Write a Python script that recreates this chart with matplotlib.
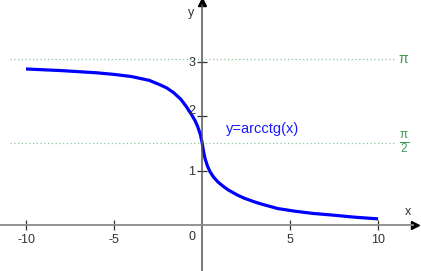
import matplotlib.pyplot as plt

# points
x_vals = [-10, -8, -6, -5, -4, -3, -2.4, -2, -1.6, -1.2, -0.9, -0.6, -0.4, -0.25, -0.1, 0,
          0.08, 0.17, 0.3, 0.45, 0.65, 0.9, 1.2, 1.5, 2, 2.4, 3, 3.4, 4.3, 5.3, 6.3, 7.4, 8.7, 10]
y_vals = [2.87, 2.84, 2.80, 2.77, 2.73, 2.66, 2.58, 2.52, 2.43, 2.31, 2.18, 2.03, 1.92, 1.81, 1.67, 1.52,
          1.36, 1.22, 1.09, 0.98, 0.88, 0.79, 0.71, 0.64, 0.55, 0.49, 0.42, 0.38, 0.30, 0.25, 0.21, 0.18, 0.14, 0.11]

x_ticks = [-10, -5, 5, 10]
y_ticks = [1, 2, 3]
y_tick_shift = [-1, 5, -1]  # label offsets in px, as in the reference
ref_lines = [3.05, 1.50]
ref_labels = ["π", r"$\frac{\pi}{2}$"]

plt.rcParams["font.family"] = ["Liberation Sans", "DejaVu Sans"]
plt.rcParams["mathtext.fontset"] = "custom"
plt.rcParams["mathtext.rm"] = "Liberation Sans"
plt.rcParams["mathtext.it"] = "Liberation Sans"
plt.rcParams["axes.unicode_minus"] = False

fig = plt.figure(figsize=(4.21, 2.71), dpi=100)
ax = fig.add_axes([0, 0, 1, 1])
ax.set_xlim(-11.48, 12.44)
ax.set_ylim(-0.85, 4.14)

for s in ["top", "right"]:
    ax.spines[s].set_visible(False)
ax.spines["left"].set_position(("data", 0))
ax.spines["bottom"].set_position(("data", 0))
ax.spines["bottom"].set_color("#8a8a8a")
ax.spines["left"].set_color("#555555")
ax.spines["bottom"].set_linewidth(1.3)
ax.spines["left"].set_linewidth(1.1)
ax.spines["bottom"].set_bounds(-11.4, 12.0)
ax.spines["left"].set_bounds(-0.85, 4.05)

ax.plot(12.1, 0, ">", color="black", markersize=6, clip_on=False)
ax.plot(0, 4.1, "^", color="black", markersize=6, clip_on=False)

ax.set_xticks(x_ticks)
ax.set_yticks(y_ticks)
ax.set_yticklabels([])
ax.tick_params(axis="both", direction="inout", length=7, width=0.9, color="#333333",
               labelsize=9, labelcolor="#333333")
ax.tick_params(axis="x", pad=3)

for yv, dy in zip(y_ticks, y_tick_shift):
    ax.annotate(str(yv), (0, yv), xytext=(-5, dy * 0.72), textcoords="offset points",
                ha="right", va="center", fontsize=9, color="#333333")

for yv, lab in zip(ref_lines, ref_labels):
    ax.plot([-10.9, 10.9], [yv, yv], linestyle=(0, (1, 2)), color="#88c898", linewidth=0.9)
    ax.text(11.45, yv, lab, color="#3a9a55", fontsize=10 if lab == "π" else 12,
            ha="center", va="center")

ax.plot(x_vals, y_vals, color="#0000ff", linewidth=2.3, solid_capstyle="butt")

ax.text(1.35, 1.77, "y=arcctg(x)", color="#1a1aff", fontsize=10.5, ha="left", va="center")
ax.text(-0.55, -0.22, "0", color="#333333", fontsize=9, ha="center", va="center")
ax.text(11.7, 0.23, "x", color="#333333", fontsize=9, ha="center", va="center")
ax.text(-0.6, 3.9, "y", color="#333333", fontsize=9, ha="center", va="center")

fig.savefig("out.png", dpi=100)
